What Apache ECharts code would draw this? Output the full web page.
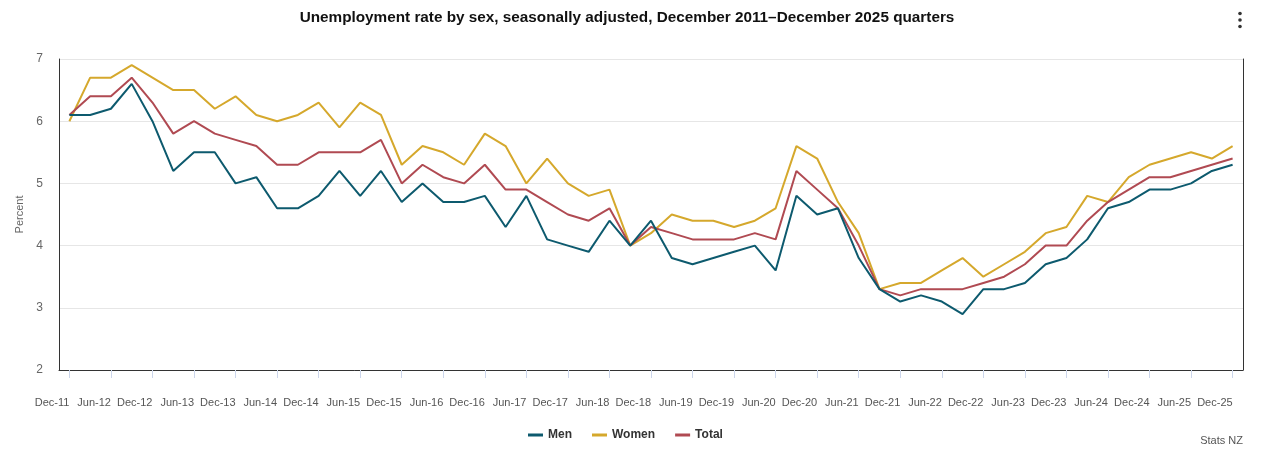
<!DOCTYPE html>
<html>
<head>
<meta charset="utf-8">
<script src="https://cdn.jsdelivr.net/npm/echarts@6/dist/echarts.min.js"></script>
<style>
  html, body { margin: 0; padding: 0; background: #ffffff; }
  #chart { width: 1271px; height: 466px; }
</style>
</head>
<body>
<div id="chart"></div>
<script>
var categories = [
  "Dec-11","Mar-12","Jun-12","Sep-12","Dec-12","Mar-13","Jun-13","Sep-13",
  "Dec-13","Mar-14","Jun-14","Sep-14","Dec-14","Mar-15","Jun-15","Sep-15",
  "Dec-15","Mar-16","Jun-16","Sep-16","Dec-16","Mar-17","Jun-17","Sep-17",
  "Dec-17","Mar-18","Jun-18","Sep-18","Dec-18","Mar-19","Jun-19","Sep-19",
  "Dec-19","Mar-20","Jun-20","Sep-20","Dec-20","Mar-21","Jun-21","Sep-21",
  "Dec-21","Mar-22","Jun-22","Sep-22","Dec-22","Mar-23","Jun-23","Sep-23",
  "Dec-23","Mar-24","Jun-24","Sep-24","Dec-24","Mar-25","Jun-25","Sep-25",
  "Dec-25"
];

var men = [
  6.1, 6.1, 6.2, 6.6, 6.0, 5.2, 5.5, 5.5,
  5.0, 5.1, 4.6, 4.6, 4.8, 5.2, 4.8, 5.2,
  4.7, 5.0, 4.7, 4.7, 4.8, 4.3, 4.8, 4.1,
  4.0, 3.9, 4.4, 4.0, 4.4, 3.8, 3.7, 3.8,
  3.9, 4.0, 3.6, 4.8, 4.5, 4.6, 3.8, 3.3,
  3.1, 3.2, 3.1, 2.9, 3.3, 3.3, 3.4, 3.7,
  3.8, 4.1, 4.6, 4.7, 4.9, 4.9, 5.0, 5.2,
  5.3
];

var women = [
  6.0, 6.7, 6.7, 6.9, 6.7, 6.5, 6.5, 6.2,
  6.4, 6.1, 6.0, 6.1, 6.3, 5.9, 6.3, 6.1,
  5.3, 5.6, 5.5, 5.3, 5.8, 5.6, 5.0, 5.4,
  5.0, 4.8, 4.9, 4.0, 4.2, 4.5, 4.4, 4.4,
  4.3, 4.4, 4.6, 5.6, 5.4, 4.7, 4.2, 3.3,
  3.4, 3.4, 3.6, 3.8, 3.5, 3.7, 3.9, 4.2,
  4.3, 4.8, 4.7, 5.1, 5.3, 5.4, 5.5, 5.4,
  5.6
];

var total = [
  6.1, 6.4, 6.4, 6.7, 6.3, 5.8, 6.0, 5.8,
  5.7, 5.6, 5.3, 5.3, 5.5, 5.5, 5.5, 5.7,
  5.0, 5.3, 5.1, 5.0, 5.3, 4.9, 4.9, 4.7,
  4.5, 4.4, 4.6, 4.0, 4.3, 4.2, 4.1, 4.1,
  4.1, 4.2, 4.1, 5.2, 4.9, 4.6, 4.0, 3.3,
  3.2, 3.3, 3.3, 3.3, 3.4, 3.5, 3.7, 4.0,
  4.0, 4.4, 4.7, 4.9, 5.1, 5.1, 5.2, 5.3,
  5.4
];

var seriesNames = ["Men", "Women", "Total"];
var seriesColors = ["#0d5a6e", "#d5a82c", "#b04a52"];
var titleText = "Unemployment rate by sex, seasonally adjusted, December 2011\u2013December 2025 quarters";
var yAxisName = "Percent";
var sourceText = "Stats NZ";

var chart = echarts.init(document.getElementById('chart'), null, { renderer: 'canvas' });
var FONT = "'Liberation Sans', Arial, sans-serif";

var dataSets = [men, women, total];
var series = seriesNames.map(function (name, k) {
  return {
    name: name,
    type: 'line',
    data: dataSets[k],
    symbol: 'none',
    smooth: false,
    lineStyle: { width: 2, color: seriesColors[k] },
    itemStyle: { color: seriesColors[k] },
    emphasis: { disabled: true },
    z: 3 + (k === 0 ? 2 : k === 2 ? 1 : 0)
  };
});

chart.setOption({
  animation: false,
  backgroundColor: '#ffffff',
  title: {
    text: titleText,
    left: 627,
    textAlign: 'center',
    top: 10,
    padding: 0,
    textStyle: { fontFamily: FONT, fontSize: 15.3, fontWeight: 'bold', color: '#111111' }
  },
  legend: {
    data: seriesNames,
    left: 528,
    top: 429,
    padding: 0,
    itemGap: 20,
    itemWidth: 15,
    itemHeight: 3,
    icon: 'rect',
    textStyle: { fontFamily: FONT, fontSize: 12, fontWeight: 'bold', color: '#333333' }
  },
  grid: { left: 59, right: 28, top: 59, bottom: 96, containLabel: false },
  xAxis: {
    type: 'category',
    data: categories,
    boundaryGap: true,
    axisLine: { show: true, lineStyle: { color: '#333333', width: 1 } },
    axisTick: { show: true, alignWithLabel: true, interval: 1, length: 8, lineStyle: { color: '#ccd6eb', width: 1 } },
    axisLabel: {
      interval: 1,
      align: 'right',
      margin: 27,
      fontFamily: FONT,
      fontSize: 11,
      color: '#555555'
    },
    splitLine: { show: false }
  },
  yAxis: [{
    type: 'value',
    min: 2,
    max: 7,
    interval: 1,
    name: yAxisName,
    nameLocation: 'middle',
    nameGap: 25,
    nameTextStyle: { fontFamily: FONT, fontSize: 11, color: '#666666' },
    axisLine: { show: true, lineStyle: { color: '#333333', width: 1 } },
    axisTick: { show: false },
    axisLabel: { margin: 16, fontFamily: FONT, fontSize: 12, color: '#666666' },
    splitLine: { show: true, lineStyle: { color: '#e6e6e6', width: 1 } }
  }, {
    type: 'value',
    position: 'right',
    min: 2,
    max: 7,
    interval: 1,
    axisLine: { show: true, lineStyle: { color: '#333333', width: 1 } },
    axisTick: { show: false },
    axisLabel: { show: false },
    splitLine: { show: false }
  }],
  graphic: [
    { type: 'text', style: { text: sourceText, x: 1243, y: 441, textAlign: 'right', textVerticalAlign: 'middle', fontFamily: FONT, fontSize: 11, fill: '#555555' } },
    { type: 'circle', shape: { cx: 1240, cy: 13.5, r: 1.8 }, style: { fill: '#333333' } },
    { type: 'circle', shape: { cx: 1240, cy: 20, r: 1.8 }, style: { fill: '#333333' } },
    { type: 'circle', shape: { cx: 1240, cy: 26.5, r: 1.8 }, style: { fill: '#333333' } }
  ],
  series: series
});
</script>
</body>
</html>
